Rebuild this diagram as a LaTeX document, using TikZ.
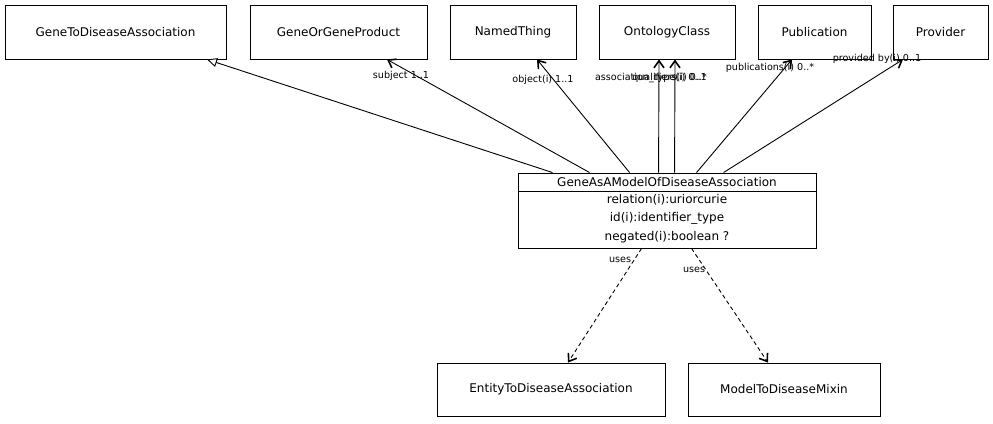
\documentclass[tikz,border=0pt]{standalone}
\usepackage{fontspec}
\setmainfont{DejaVu Sans}
\usetikzlibrary{arrows.meta}
\begin{document}
\begin{tikzpicture}[x=1pt,y=-1pt,
  cls/.style={draw,line width=0.9pt,rectangle,inner sep=0pt,font=\fontsize{12}{14}\selectfont},
  lbl/.style={inner sep=0pt,font=\fontsize{9.6}{11}\selectfont},
  row/.style={inner sep=0pt,font=\fontsize{12}{14}\selectfont},
  assoc/.style={line width=0.9pt,-{Straight Barb[length=7pt,width=10pt,line width=1.6pt]}},
  inherit/.style={line width=0.9pt,-{Triangle[open,length=10pt,width=9pt,fill=white]}},
  usesarrow/.style={line width=0.9pt,dash pattern=on 4pt off 3pt,-{Straight Barb[length=7pt,width=10pt,line width=1.6pt]}}]
\useasboundingbox (0,0) rectangle (993,423);
% top classes
\node[cls,minimum width=221pt,minimum height=54pt] (gtd) at (115.5,32) {GeneToDiseaseAssociation};
\node[cls,minimum width=177pt,minimum height=54pt] (ggp) at (338.5,32) {GeneOrGeneProduct};
\node[cls,minimum width=126pt,minimum height=54pt] (nt) at (513,32) {NamedThing};
\node[cls,minimum width=136pt,minimum height=54pt] (oc) at (667,32) {OntologyClass};
\node[cls,minimum width=113pt,minimum height=54pt] (pub) at (814.5,32) {Publication};
\node[cls,minimum width=95pt,minimum height=54pt] (prov) at (940.5,32) {Provider};
% main class
\node[cls,minimum width=298pt,minimum height=75pt] (main) at (667,210.5) {};
\coordinate (hl) at (518,191);
\coordinate (hr) at (816,191);
\draw[line width=0.9pt] (hl) -- (hr);
\node[row] (mh) at (667,182) {GeneAsAModelOfDiseaseAssociation};
\node[row] (r1) at (667,200) {relation(i):uriorcurie};
\node[row] (r2) at (667,218.5) {id(i):identifier\_type};
\node[row] (r3) at (667,237.5) {negated(i):boolean ?};
% bottom classes
\node[cls,minimum width=228pt,minimum height=53pt] (etd) at (551,389.5) {EntityToDiseaseAssociation};
\node[cls,minimum width=192pt,minimum height=53pt] (mtd) at (784,389.5) {ModelToDiseaseMixin};
% edges
\draw[inherit] ([xshift=35pt]main.north west) -- ([xshift=91.5pt]gtd.south);
\draw[assoc] ([xshift=72pt]main.north west) -- ([xshift=48.5pt]ggp.south);
\draw[assoc] ([xshift=112pt]main.north west) -- ([xshift=24pt]nt.south);
\draw[assoc] ([xshift=141pt]main.north west) -- ([xshift=-8pt]oc.south);
\draw[assoc] ([xshift=157pt]main.north west) -- ([xshift=8pt]oc.south);
\draw[assoc] ([xshift=179pt]main.north west) -- ([xshift=-22.5pt]pub.south);
\draw[assoc] ([xshift=206pt]main.north west) -- ([xshift=-37.5pt]prov.south);
\draw[usesarrow] ([xshift=124pt]main.south west) -- ([xshift=17pt]etd.north);
\draw[usesarrow] ([xshift=174pt]main.south west) -- ([xshift=-16pt]mtd.north);
% labels
\node[lbl] (l1) at (401,76) {subject 1..1};
\node[lbl] (l2) at (543,80) {object(i) 1..1};
\node[lbl,anchor=east] (l3) at (707,78) {association\_type(i) 0..1};
\node[lbl,anchor=east] (l4) at (707,78) {qualifiers(i) 0..*};
\node[lbl] (l5) at (770,68) {publications(i) 0..*};
\node[lbl] (l6) at (877,59) {provided by(i) 0..1};
\node[lbl] (u1) at (620,260) {uses};
\node[lbl] (u2) at (694,270) {uses};
\end{tikzpicture}
\end{document}
